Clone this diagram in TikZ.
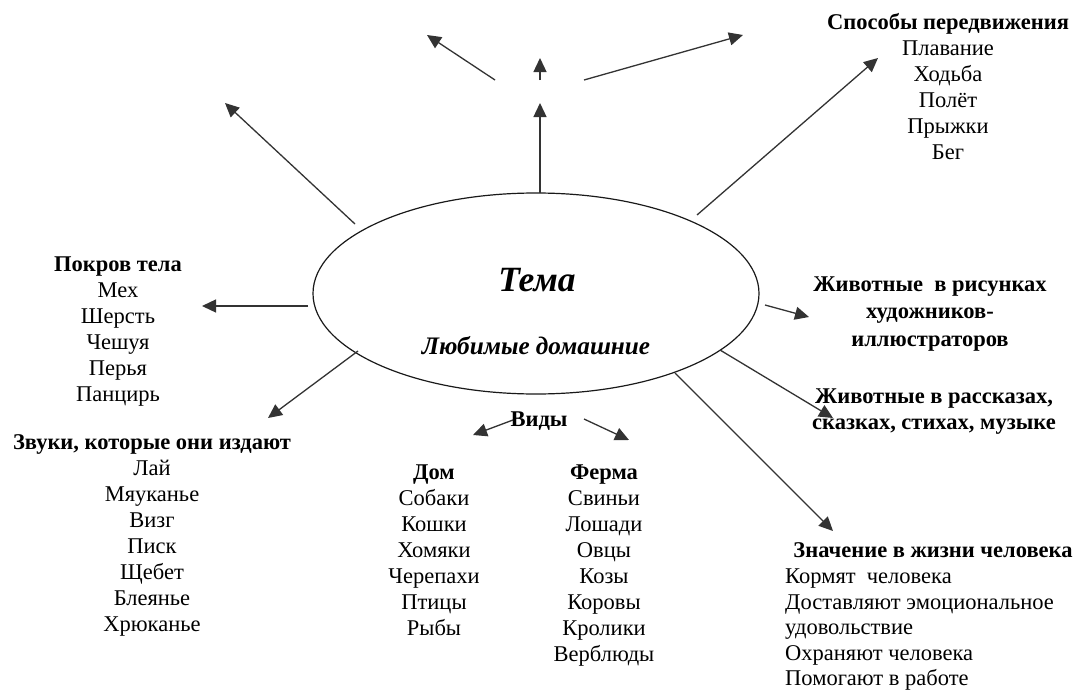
\documentclass[tikz,border=0pt]{standalone}
\usepackage{fontspec}
\setmainfont{Liberation Serif}
\usetikzlibrary{arrows.meta,shapes.geometric}
\begin{document}
\begin{tikzpicture}[x=1pt,y=-1pt,
  arr/.style={draw=black!80, line width=1.3pt, -{Triangle[length=14pt,width=13pt]}},
  txt/.style={inner sep=0pt, align=center, anchor=north, font=\fontsize{22.5}{26}\selectfont},
  btxt/.style={txt, font=\fontsize{22.5}{26}\selectfont\bfseries},
  oval/.style={draw=black!90, line width=1.2pt, ellipse, minimum width=446pt, minimum height=201pt, inner sep=0pt}
]
\useasboundingbox (0,0) rectangle (1077,696);
\fill[white] (0,0) rectangle (1077,696);

% central ellipse
\node[oval] (tema) at (536,293.5) {};
\node[inner sep=0pt, anchor=base, font=\fontsize{35.5}{40}\selectfont\bfseries\itshape] (tematitle) at (537,291.5) {Тема};
\node[inner sep=0pt, anchor=base, font=\fontsize{25.2}{28}\selectfont\bfseries\itshape] (temasub) at (536,354) {Любимые домашние};

% text blocks
\node[txt] (sposoby) at (948,13.5) {\textbf{Способы передвижения}\\Плавание\\Ходьба\\Полёт\\Прыжки\\Бег};
\node[txt] (pokrov) at (118,256.5) {\textbf{Покров тела}\\Мех\\Шерсть\\Чешуя\\Перья\\Панцирь};
\node[txt] (zvuki) at (152,434.5) {\textbf{Звуки, которые они издают}\\Лай\\Мяуканье\\Визг\\Писк\\Щебет\\Блеянье\\Хрюканье};
\node[btxt] (vidy) at (539,411.5) {Виды};
\node[txt] (dom) at (434,464.5) {\textbf{Дом}\\Собаки\\Кошки\\Хомяки\\Черепахи\\Птицы\\Рыбы};
\node[txt] (ferma) at (604,464.5) {\textbf{Ферма}\\Свиньи\\Лошади\\Овцы\\Козы\\Коровы\\Кролики\\Верблюды};
\node[btxt, font=\fontsize{22.5}{27.5}\selectfont\bfseries] (risunki) at (930,276.5) {Животные\ \ в рисунках\\художников-\\иллюстраторов};
\node[btxt] (rasskazy) at (934,388.5) {Животные в рассказах,\\сказках, стихах, музыке};
\node[btxt] (znach) at (933,542.5) {Значение в жизни человека};
\node[txt, anchor=north west, align=left, font=\fontsize{22.5}{25.5}\selectfont] (znachlist) at (785,569) {Кормят\ \ человека\\Доставляют эмоциональное\\удовольствие\\Охраняют человека\\Помогают в работе};

% arrow end points
\coordinate (s1) at (540,193);  \coordinate (e1) at (540,103);
\coordinate (s2) at (540,80);   \coordinate (e2) at (540,58);
\coordinate (s3) at (495,80);   \coordinate (e3) at (427,35);
\coordinate (s4) at (584,80);   \coordinate (e4) at (743,35);
\coordinate (s5) at (355,224);  \coordinate (e5) at (225,103);
\coordinate (s6) at (697,215);
\coordinate (s7) at (308,306);
\coordinate (s8) at (358,351);
\coordinate (s9) at (765,305);
\coordinate (s10) at (720,350);
\coordinate (s11) at (675,373);
\coordinate (s12) at (513,420);
\coordinate (s13) at (584,419);
\coordinate (e6) at (878,58);
\coordinate (e7) at (202,306);
\coordinate (e8) at (268,418);
\coordinate (e9) at (809,317);
\coordinate (e10) at (833,418);
\coordinate (e11) at (833,531);
\coordinate (e12) at (473,435);
\coordinate (e13) at (629,440);

\draw[arr] (s1) -- (e1);
\draw[arr] (s2) -- (e2);
\draw[arr] (s3) -- (e3);
\draw[arr] (s4) -- (e4);
\draw[arr] (s5) -- (e5);
\draw[arr] (s6) -- (e6);
\draw[arr] (s7) -- (e7);
\draw[arr] (s8) -- (e8);
\draw[arr] (s9) -- (e9);
\draw[arr] (s10) -- (e10);
\draw[arr] (s11) -- (e11);
\draw[arr] (s12) -- (e12);
\draw[arr] (s13) -- (e13);
\end{tikzpicture}
\end{document}
